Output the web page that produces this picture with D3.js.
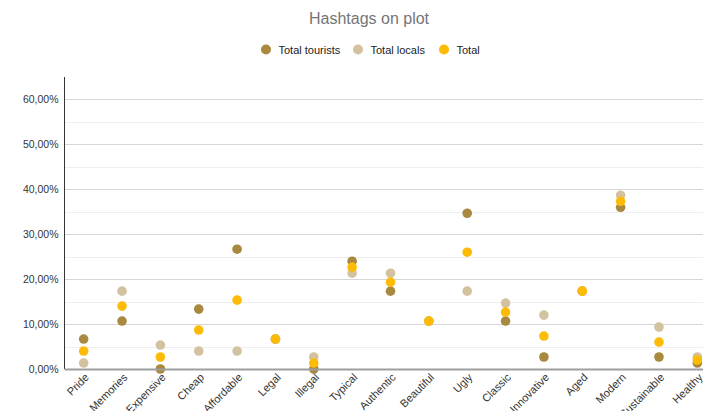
<!DOCTYPE html>
<html>
<head>
<meta charset="utf-8">
<script src="https://cdn.jsdelivr.net/npm/d3@7"></script>
<style>
  html, body { margin: 0; padding: 0; background: #fff; overflow: hidden; }
  svg { display: block; font-family: "Liberation Sans", Arial, sans-serif; }
</style>
</head>
<body>
<svg id="chart" width="703" height="411"></svg>
<script>
const categories = ["Pride", "Memories", "Expensive", "Cheap", "Affordable", "Legal", "Illegal", "Typical", "Authentic", "Beautiful", "Ugly", "Classic", "Innovative", "Aged", "Modern", "Sustainable", "Healthy"];
const totalTourists = [0.0667, 0.1067, 0.0000, 0.1333, 0.2667, 0.0667, 0.0000, 0.2400, 0.1733, 0.1067, 0.3467, 0.1067, 0.0267, 0.1733, 0.3600, 0.0267, 0.0133];
const totalLocals   = [0.0133, 0.1733, 0.0533, 0.0400, 0.0400, 0.0667, 0.0267, 0.2133, 0.2133, 0.1067, 0.1733, 0.1467, 0.1200, 0.1733, 0.3867, 0.0933, 0.0267];
const total         = [0.0400, 0.1400, 0.0267, 0.0867, 0.1533, 0.0667, 0.0133, 0.2267, 0.1933, 0.1067, 0.2600, 0.1267, 0.0733, 0.1733, 0.3733, 0.0600, 0.0200];
const seriesNames = ["Total tourists", "Total locals", "Total"];
const seriesColors = ["#A8893F", "#D3C29F", "#FDBB05"];
const yTicks = [0, 0.1, 0.2, 0.3, 0.4, 0.5, 0.6];
const yMinorTicks = [0.05, 0.15, 0.25, 0.35, 0.45, 0.55];

const series = [totalTourists, totalLocals, total];
const svg = d3.select("#chart");
const FONT = "'Liberation Sans', Arial, sans-serif";

const mLeft = 64.5, mBottom = 369, mTop = 77, mRight = 716.5;
const x = d3.scaleBand().domain(categories).range([mLeft, mRight]);
const y = d3.scaleLinear().domain([0, 0.65]).range([mBottom, mTop]);

// Title
svg.append("text").attr("x", 369).attr("y", 24).attr("text-anchor", "middle")
  .attr("font-size", 16).attr("fill", "#757575").text("Hashtags on plot");

// Legend
const legendX = [266, 358, 444];
seriesNames.forEach((n, i) => {
  const g = svg.append("g").attr("transform", `translate(${legendX[i]},49.5)`);
  g.append("circle").attr("r", 5).attr("fill", seriesColors[i]);
  g.append("text").attr("x", 12.5).attr("y", 4).attr("font-size", 11).attr("fill", "#222").text(n);
});

// Grid lines
svg.append("g").selectAll("line").data(yMinorTicks).join("line")
  .attr("x1", mLeft).attr("x2", 703).attr("y1", d => Math.round(y(d)) + 0.5).attr("y2", d => Math.round(y(d)) + 0.5)
  .attr("stroke", "#eeeeee").attr("stroke-width", 1);
svg.append("g").selectAll("line").data(yTicks.slice(1)).join("line")
  .attr("x1", mLeft).attr("x2", 703).attr("y1", d => Math.round(y(d)) + 0.5).attr("y2", d => Math.round(y(d)) + 0.5)
  .attr("stroke", "#d6d6d6").attr("stroke-width", 1);

// Y axis
const yAxis = d3.axisLeft(y).tickValues(yTicks).tickSize(0).tickPadding(6)
  .tickFormat(d => (d * 100).toFixed(2).replace(".", ",") + "%");
const ya = svg.append("g").attr("transform", `translate(${mLeft},0)`).call(yAxis);
ya.select(".domain").remove();
ya.selectAll("text").attr("font-size", 10.5).attr("fill", "#333").attr("font-family", FONT);
svg.append("line").attr("x1", mLeft).attr("x2", mLeft).attr("y1", mTop).attr("y2", mBottom)
  .attr("stroke", "#333").attr("stroke-width", 1);

// X axis
const xAxis = d3.axisBottom(x).tickSize(0).tickPadding(0);
const xa = svg.append("g").attr("transform", `translate(0,${mBottom})`).call(xAxis);
xa.select(".domain").remove();
xa.selectAll("text")
  .attr("font-size", 11).attr("fill", "#333").attr("font-family", FONT)
  .attr("text-anchor", "end").attr("dy", null).attr("y", 0)
  .attr("transform", "translate(6,9) rotate(-45)");

// Dots
series.forEach((vals, si) => {
  svg.append("g").selectAll("circle").data(vals).join("circle")
    .attr("cx", (d, i) => x(categories[i]) + x.bandwidth() / 2)
    .attr("cy", d => y(d))
    .attr("r", 4.8)
    .attr("fill", seriesColors[si]);
});

// Baseline
svg.append("line").attr("x1", mLeft).attr("x2", 703).attr("y1", mBottom + 0.5).attr("y2", mBottom + 0.5)
  .attr("stroke", "#9e9e9e").attr("stroke-width", 2);
</script>
</body>
</html>
